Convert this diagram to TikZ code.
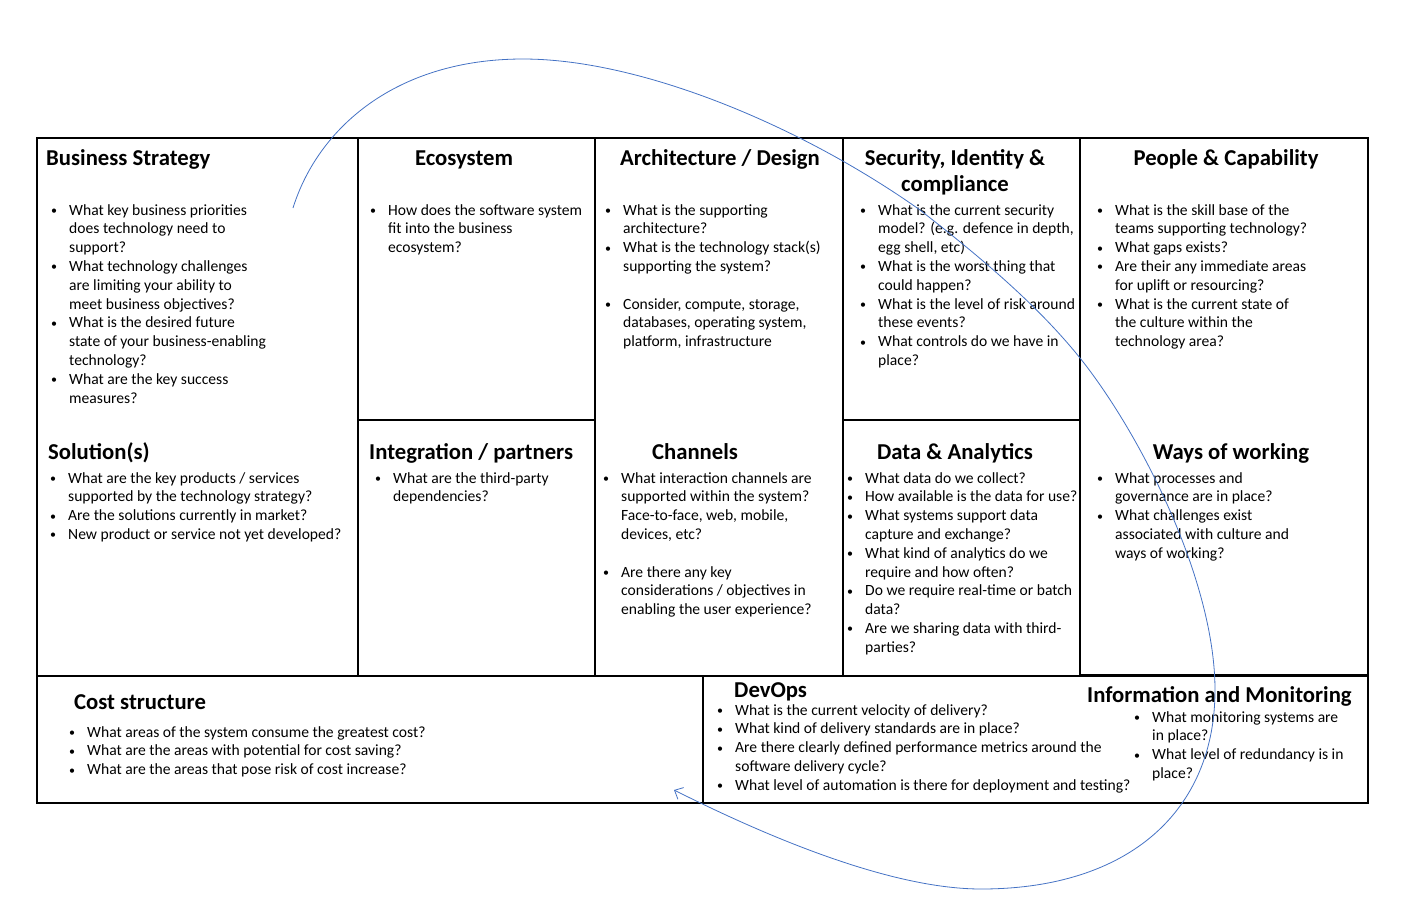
\documentclass[tikz,border=0pt]{standalone}
\usepackage{fontspec}
\setmainfont{Carlito}
\usetikzlibrary{arrows.meta}
\newcommand\bodyf{\fontsize{15.6}{18.8}\selectfont}
\newcommand\headf{\fontsize{22.7}{26}\selectfont\bfseries}
\newcommand\bul{\leavevmode\llap{\makebox[18pt][l]{\raisebox{0.5pt}{\fontsize{12}{12}\selectfont\textbullet}}}}
\definecolor{flowblue}{HTML}{4472C4}
\tikzset{
  grid/.style={draw=black, line width=1.1pt},
  body/.style={font=\bodyf, align=left, inner sep=0pt, anchor=north west, yshift=11pt,
    execute at begin node={\rule{0pt}{14pt}}},
  head/.style={font=\headf, inner sep=0pt},
  flow/.style={draw=flowblue, line width=0.8pt, -{Straight Barb[length=7pt,width=13pt]}},
}
\begin{document}
\begin{tikzpicture}[x=1pt,y=-1pt]
\useasboundingbox (0,0) rectangle (1402,918);
% grid
\draw[grid] (37,138) rectangle (1368,803);
\draw[grid] (358,138) -- (358,676);
\draw[grid] (595,138) -- (595,676);
\draw[grid] (843,138) -- (843,676);
\draw[grid] (1080,138) -- (1080,676);
\draw[grid] (37,676) -- (1368,676);
\draw[line width=1.8pt] (1080,675) -- (1368,675);
\draw[grid] (358,420) -- (595,420);
\draw[grid] (843,420) -- (1080,420);
\draw[grid] (703,676) -- (703,803);
% headings
\node[head,anchor=base west] (hbs) at (46,165) {Business Strategy};
\node[head,anchor=base] (heco) at (464,165) {Ecosystem};
\node[head,anchor=base] (harc) at (720,165) {Architecture / Design};
\node[head,anchor=north,align=center,yshift=20pt] (hsec) at (955,165) {\rule{0pt}{20pt}Security, Identity \&\\compliance};
\node[head,anchor=base] (hpeo) at (1226,165) {People \& Capability};
\node[head,anchor=base west] (hsol) at (48,459) {Solution(s)};
\node[head,anchor=base west] (hint) at (369,459) {Integration / partners};
\node[head,anchor=base] (hcha) at (695,459) {Channels};
\node[head,anchor=base] (hdat) at (955,459) {Data \& Analytics};
\node[head,anchor=base] (hway) at (1231,459) {Ways of working};
\node[head,anchor=base west] (hcos) at (74,709) {Cost structure};
\node[head,anchor=base west] (hdev) at (734,697) {DevOps};
\node[head,anchor=base west] (hinf) at (1087,702) {Information and Monitoring};
% bodies
\node[body] (bbs) at (69,215) {\bul What key business priorities\\does technology need to\\support?\\\bul What technology challenges\\are limiting your ability to\\meet business objectives?\\\bul What is the desired future\\state of your business-enabling\\technology?\\\bul What are the key success\\measures?};
\node[body] (beco) at (388,215) {\bul How does the software system\\fit into the business\\ecosystem?};
\node[body] (barc) at (623,215) {\bul What is the supporting\\architecture?\\\bul What is the technology stack(s)\\supporting the system?\\[18.8pt]\bul Consider, compute, storage,\\databases, operating system,\\platform, infrastructure};
\node[body] (bsec) at (878,215) {\bul What is the current security\\model? (e.g. defence in depth,\\egg shell, etc)\\\bul What is the worst thing that\\could happen?\\\bul What is the level of risk around\\these events?\\\bul What controls do we have in\\place?};
\node[body] (bpeo) at (1115,215) {\bul What is the skill base of the\\teams supporting technology?\\\bul What gaps exists?\\\bul Are their any immediate areas\\for uplift or resourcing?\\\bul What is the current state of\\the culture within the\\technology area?};
\node[body] (bsol) at (68,483) {\bul What are the key products / services\\supported by the technology strategy?\\\bul Are the solutions currently in market?\\\bul New product or service not yet developed?};
\node[body] (bint) at (393,483) {\bul What are the third-party\\dependencies?};
\node[body] (bcha) at (621,483) {\bul What interaction channels are\\supported within the system?\\Face-to-face, web, mobile,\\devices, etc?\\[18.8pt]\bul Are there any key\\considerations / objectives in\\enabling the user experience?};
\node[body] (bdat) at (865,483) {\bul What data do we collect?\\\bul How available is the data for use?\\\bul What systems support data\\capture and exchange?\\\bul What kind of analytics do we\\require and how often?\\\bul Do we require real-time or batch\\data?\\\bul Are we sharing data with third-\\parties?};
\node[body] (bway) at (1115,483) {\bul What processes and\\governance are in place?\\\bul What challenges exist\\associated with culture and\\ways of working?};
\node[body] (bcos) at (87,737) {\bul What areas of the system consume the greatest cost?\\\bul What are the areas with potential for cost saving?\\\bul What are the areas that pose risk of cost increase?};
\node[body] (bdev) at (735,715) {\bul What is the current velocity of delivery?\\\bul What kind of delivery standards are in place?\\\bul Are there clearly defined performance metrics around the\\software delivery cycle?\\\bul What level of automation is there for deployment and testing?};
\node[body] (binf) at (1152,722) {\bul What monitoring systems are\\in place?\\\bul What level of redundancy is in\\place?};
% curve
\coordinate (cs) at (293,208);
\coordinate (c1) at (523,59);
\coordinate (c2) at (920,210);
\coordinate (c3) at (1080,358);
\coordinate (c4) at (1215,690);
\coordinate (c5) at (981,889);
\coordinate (ce) at (674,790);
\draw[flow] (cs) .. controls (318,128) and (396,59) .. (c1)
  .. controls (640,59) and (800,125) .. (c2)
  .. controls (975,253) and (1035,302) .. (c3)
  .. controls (1140,433) and (1215,580) .. (c4)
  .. controls (1215,810) and (1130,889) .. (c5)
  .. controls (881,889) and (744,825) .. (ce);
\end{tikzpicture}
\end{document}
